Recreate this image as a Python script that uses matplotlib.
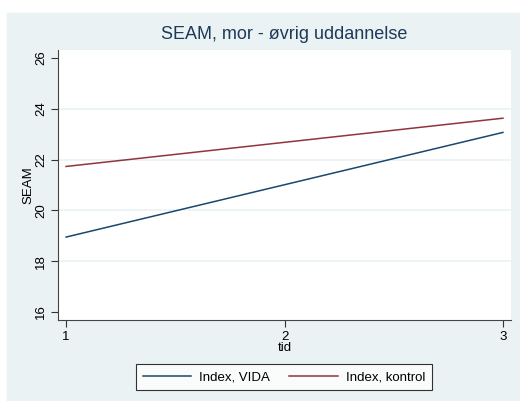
import matplotlib.pyplot as plt
from matplotlib.patches import Rectangle

plt.rcParams['font.family'] = ['Liberation Sans', 'DejaVu Sans']

# data
tid = [1, 2, 3]
vida = [18.95, 21.01, 23.07]
kontrol = [21.73, 22.68, 23.63]
yticks = [16, 18, 20, 22, 24, 26]

navy = '#1a476f'
maroon = '#90353b'
bg = '#eaf2f3'

fig = plt.figure(figsize=(5.2, 4.01), dpi=100)
fig.patches.append(Rectangle((7 / 520, 0), 1, (401 - 13) / 401,
                             transform=fig.transFigure, color=bg, zorder=-5))

ax = fig.add_axes([58 / 520, (401 - 320) / 401, (511 - 58) / 520, (320 - 50) / 401])
ax.set_zorder(2)
ax.set_facecolor('white')
for y in [18, 20, 22, 24]:
    ax.axhline(y, color=bg, lw=1.2, zorder=1)

ax.plot(tid, vida, color=navy, lw=1.1, label='Index, VIDA', zorder=3)
ax.plot(tid, kontrol, color=maroon, lw=1.1, label='Index, kontrol', zorder=3)

ax.set_xlim(0.963, 3.037)
ax.set_ylim(15.685, 26.315)
ax.set_xticks(tid)
ax.set_yticks(yticks)
ax.set_yticklabels([str(v) for v in yticks], rotation=90, va='center')
ax.tick_params(direction='out', length=5, width=0.8, color='#333333', labelsize=9.5, pad=3)
for s in ['top', 'right']:
    ax.spines[s].set_visible(False)
for s in ['left', 'bottom']:
    ax.spines[s].set_color('#444444')
    ax.spines[s].set_linewidth(0.8)

ax.set_xlabel('tid', fontsize=9.5, labelpad=-1)
ax.set_ylabel('SEAM', fontsize=9.5, labelpad=0)
ax.set_title('SEAM, mor - øvrig uddannelse', fontsize=13, color='#1e3a5a', pad=8)

leg = fig.legend(loc='center', bbox_to_anchor=(284 / 520, (401 - 377) / 401), ncol=2,
                 fontsize=9.5, frameon=True, fancybox=False, edgecolor='black',
                 handlelength=3.7, handletextpad=0.6, columnspacing=1.45, borderpad=0.5)
leg.get_frame().set_linewidth(0.8)
leg.set_zorder(3)

fig.savefig('out.png', dpi=100)
